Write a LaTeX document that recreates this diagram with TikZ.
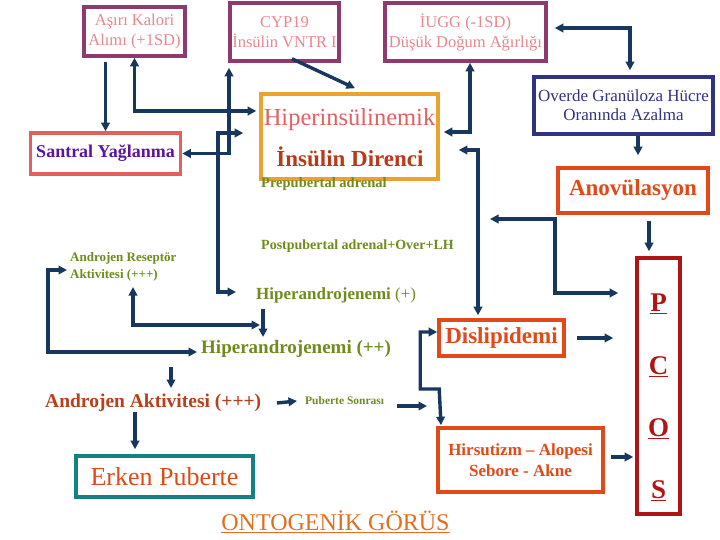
\documentclass[tikz,border=0pt]{standalone}
\usepackage{fontspec}
\setmainfont{Liberation Serif}
\usetikzlibrary{arrows.meta}

\definecolor{linkblue}{RGB}{23,55,94}
\definecolor{plumline}{RGB}{142,58,110}
\definecolor{pinktext}{RGB}{232,135,140}
\definecolor{ovblue}{RGB}{50,50,130}
\definecolor{redorange}{RGB}{224,74,26}
\definecolor{amberline}{RGB}{234,162,48}
\definecolor{hipink}{RGB}{228,96,96}
\definecolor{rustred}{RGB}{184,58,26}
\definecolor{salmonline}{RGB}{226,96,96}
\definecolor{purpletext}{RGB}{90,20,160}
\definecolor{leafgreen}{RGB}{110,140,30}
\definecolor{brickred}{RGB}{184,64,26}
\definecolor{pcosred}{RGB}{176,20,20}
\definecolor{tealline}{RGB}{20,130,130}
\definecolor{ontoorange}{RGB}{226,110,30}

\begin{document}
\begin{tikzpicture}[
    x=1pt, y=-1pt,
    box/.style={
        draw,
        line width=3.6pt,
        inner sep=0pt,
        align=center
    },
    lbl/.style={inner sep=0pt, anchor=west, align=left, text=leafgreen},
    link/.style={-{Triangle[length=8.5pt,width=8.5pt]}, draw=linkblue, line width=3.4pt},
    twoway/.style={{Triangle[length=8.5pt,width=8.5pt]}-{Triangle[length=8.5pt,width=8.5pt]}, draw=linkblue, line width=3.4pt}
]

\fill[white] (0,0) rectangle (720,540);
\useasboundingbox (0,0) rectangle (720,540);

\node (kalori) [box, draw=plumline, text=pinktext, minimum width=101pt, minimum height=49pt,
    font=\fontsize{16.5}{20}\selectfont] at (134.5,31.5) {Aşırı Kalori\\Alımı (+1SD)};
\node (cyp) [box, draw=plumline, text=pinktext, minimum width=109pt, minimum height=58pt,
    font=\fontsize{16.5}{20}\selectfont] at (284.5,32) {CYP19\\İnsülin VNTR I};
\node (iugg) [box, draw=plumline, text=pinktext, minimum width=161pt, minimum height=58pt,
    font=\fontsize{16.5}{20}\selectfont] at (465.5,32) {İUGG (-1SD)\\Düşük Doğum Ağırlığı};
\node (overde) [box, draw=ovblue, text=ovblue, minimum width=179pt, minimum height=57pt,
    font=\fontsize{17}{19}\selectfont] at (623.5,105.5) {Overde Granüloza Hücre\\Oranında Azalma};
\node (anov) [box, draw=redorange, text=redorange, minimum width=150pt, minimum height=45pt,
    font=\bfseries\fontsize{23}{27}\selectfont] at (633,190.5) {Anovülasyon};

\node (hiri) [box, draw=amberline, minimum width=177pt, minimum height=85pt] at (349.5,136.5) {};
\node (hipins) [text=hipink, font=\fontsize{24.5}{28}\selectfont] at (349.5,120) {Hiperinsülinemik};
\node (insdir) [text=rustred, font=\bfseries\fontsize{23}{27}\selectfont] at (350,157) {İnsülin Direnci};

\node (santral) [box, draw=salmonline, text=purpletext, minimum width=150pt, minimum height=41pt,
    font=\bfseries\fontsize{18}{22}\selectfont] at (105.5,153.5) {Santral Yağlanma};

\node (prepub) [lbl, font=\bfseries\fontsize{14.5}{17}\selectfont] at (261,184) {Prepubertal adrenal};
\node (postpub) [lbl, font=\bfseries\fontsize{14}{17}\selectfont] at (261,246) {Postpubertal adrenal+Over+LH};
\node (arrec) [lbl, font=\bfseries\fontsize{13}{17}\selectfont] at (70,267) {Androjen Reseptör\\Aktivitesi (+++)};
\node (hipa1) [lbl, font=\fontsize{17}{20}\selectfont] at (256,295) {\textbf{Hiperandrojenemi} (+)};
\node (hipa2) [lbl, font=\bfseries\fontsize{19}{22}\selectfont] at (201,349) {Hiperandrojenemi (++)};
\node (andakt) [lbl, text=brickred, font=\bfseries\fontsize{19.5}{23}\selectfont] at (45,403) {Androjen Aktivitesi (+++)};
\node (pubson) [lbl, font=\bfseries\fontsize{11.5}{14}\selectfont] at (305,401) {Puberte Sonrası};

\node (dislip) [box, draw=redorange, text=redorange, minimum width=125pt, minimum height=36pt,
    font=\bfseries\fontsize{23}{27}\selectfont] at (501.5,338) {Dislipidemi};
\node (hirsut) [box, draw=redorange, text=redorange, minimum width=165pt, minimum height=64pt,
    font=\bfseries\fontsize{17}{21}\selectfont] at (520.5,460) {Hirsutizm -- Alopesi\\Sebore - Akne};
\node (erken) [box, draw=tealline, text=redorange, minimum width=177pt, minimum height=41pt,
    font=\fontsize{26}{30}\selectfont] at (164.5,476.5) {Erken Puberte};

\node (pcos) [box, draw=pcosred, minimum width=43pt, minimum height=256pt] at (658.5,386) {};
\foreach \ch [count=\i] in {P,C,O,S}
    \node (pc\i) [text=pcosred, inner sep=0pt, font=\bfseries\fontsize{27}{30}\selectfont]
        at (658.5,{304+62.3*(\i-1)}) {\underline{\ch}};

\node (onto) [text=ontoorange, font=\fontsize{24}{28}\selectfont] at (335.5,522) {\underline{ONTOGENİK GÖRÜS}};

\coordinate (ovfree) at (490,219);
\coordinate (pbfree) at (427,406);

\draw[link] ([xshift=-29pt,yshift=-4pt]kalori.south) -- (santral.north);
\draw[twoway] (kalori.south) |- ([xshift=-3pt,yshift=25.5pt]hiri.west);
\draw[twoway] ([xshift=-55.5pt,yshift=-5pt]cyp.south) |- (santral.east);
\draw[link] ([xshift=7.5pt,yshift=4pt]cyp.south) -- ([xshift=5.5pt,yshift=4pt]hiri.north);
\draw[twoway] ([xshift=-16pt,yshift=3.5pt]hiri.west) -| ([xshift=-38pt,yshift=3pt]hipa1.west)
    -- ([xshift=-20pt,yshift=3pt]hipa1.west);
\draw[twoway] ([xshift=4.5pt]iugg.south) |- ([xshift=4pt,yshift=4.5pt]hiri.east);
\draw[twoway] ([xshift=7pt,yshift=4pt]iugg.east) -| ([xshift=6.5pt,yshift=5pt]overde.north);
\draw[link] ([xshift=14.5pt]overde.south) -- ([xshift=5pt,yshift=11pt]anov.north);
\draw[twoway] ([xshift=19pt,yshift=-13.5pt]hiri.east) -| ([xshift=-23.5pt,yshift=3pt]dislip.north);
\draw[link] ([xshift=16pt,yshift=-6pt]anov.south) -- ([xshift=-9.5pt,yshift=5pt]pcos.north);
\draw[twoway] (ovfree) -- ++(65,0) |- ([xshift=-17pt,yshift=93pt]pcos.west);
\draw[link] ([xshift=11pt]dislip.east) -- ([xshift=-22pt,yshift=48pt]pcos.west);
\draw[link] ([xshift=7pt,yshift=-14pt]hipa1.west) -- ([xshift=62pt,yshift=12pt]hipa2.west);
\draw[twoway] ([xshift=63pt,yshift=-20pt]arrec.west) |- ([xshift=4pt,yshift=-30pt]hipa1.west);
\draw[twoway] ([xshift=-3pt,yshift=-3pt]arrec.west) -- ++(-19,0) |- ([xshift=-4pt,yshift=-3pt]hipa2.west);
\draw[link] ([xshift=-30pt,yshift=-18pt]hipa2.west) -- ([xshift=126pt,yshift=15pt]andakt.west);
\draw[link] ([xshift=232pt]andakt.west) -- ([xshift=-8pt]pubson.west);
\draw[link] ([xshift=92pt,yshift=-5pt]pubson.west) -- (pbfree);
\draw[twoway] ([yshift=6pt]dislip.west) -- ++(-17,0) -- ++(0,57) -- ++(19,0)
    -- ([xshift=-79.5pt,yshift=1pt]hirsut.north);
\draw[link] ([xshift=90pt,yshift=-9pt]andakt.west) -- ([xshift=-29.5pt,yshift=5pt]erken.north);
\draw[link] ([xshift=6pt,yshift=3pt]hirsut.east) -- ([xshift=-2pt,yshift=-71pt]pcos.west);

\end{tikzpicture}
\end{document}
